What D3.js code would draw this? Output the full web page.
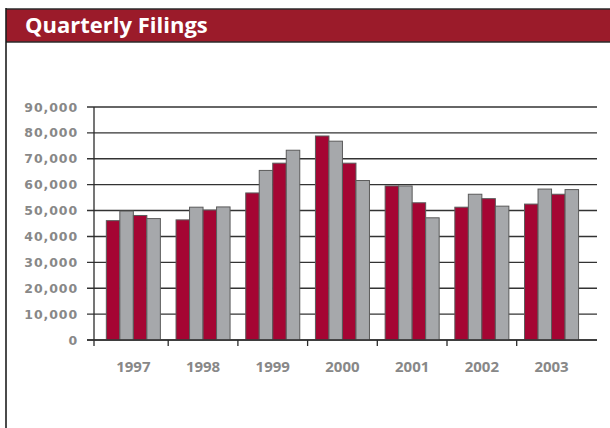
<!DOCTYPE html>
<html>
<head>
<meta charset="utf-8">
<script src="https://cdn.jsdelivr.net/npm/d3@7"></script>
<style>
  html, body { margin: 0; padding: 0; background: #fff; }
  svg { display: block; }
</style>
</head>
<body>
<div id="chartContainer"></div>
<script>
const years = ["1997", "1998", "1999", "2000", "2001", "2002", "2003"];
const quarters = ["Q1", "Q2", "Q3", "Q4"];
const q1 = [46100, 46400, 56800, 78800, 59500, 51300, 52500];
const q2 = [49800, 51300, 65500, 76800, 59500, 56300, 58300];
const q3 = [48100, 50200, 68300, 68300, 53000, 54600, 56300];
const q4 = [46900, 51400, 73300, 61600, 47200, 51700, 58100];
const yTicks = [0, 10000, 20000, 30000, 40000, 50000, 60000, 70000, 80000, 90000];
const title = "Quarterly Filings";

const series = [q1, q2, q3, q4];
const quarterColors = ["#a50533", "#a6a8ab", "#a50533", "#a6a8ab"];

const width = 610;
const height = 428;

const svg = d3
  .select("#chartContainer")
  .append("svg")
  .attr("width", width)
  .attr("height", height);

// header band
svg
  .append("rect")
  .attr("x", 6)
  .attr("y", 9)
  .attr("width", width)
  .attr("height", 33)
  .attr("fill", "#9b1b2a");
svg.append("line").attr("x1", 6).attr("x2", width).attr("y1", 9).attr("y2", 9)
  .attr("stroke", "#2b2b2b").attr("stroke-width", 1.6);
svg.append("line").attr("x1", 6).attr("x2", width).attr("y1", 42).attr("y2", 42)
  .attr("stroke", "#2b2b2b").attr("stroke-width", 1.6);
svg.append("line").attr("x1", 6).attr("x2", 6).attr("y1", 8).attr("y2", height)
  .attr("stroke", "#1e1e1e").attr("stroke-width", 1.6);

svg
  .append("text")
  .attr("x", 25)
  .attr("y", 32.5)
  .attr("fill", "#fff")
  .style("font-family", "'Open Sans', sans-serif")
  .style("font-weight", "bold")
  .style("font-size", "22px")
  .text(title);

// scales
const y = d3.scaleLinear().domain([0, 90000]).range([340, 107]);
const x0 = d3.scaleBand().domain(years).range([98.5, 586.4]).padding(0);
const x1 = d3
  .scaleBand()
  .domain(quarters)
  .range([0, x0.bandwidth()])
  .paddingInner(0)
  .paddingOuter(0.58);

const axisX = 94;
const gridRight = 597;

// grid lines with left tick marks
svg
  .append("g")
  .selectAll("line")
  .data(yTicks)
  .enter()
  .append("line")
  .attr("x1", axisX - 7)
  .attr("x2", gridRight)
  .attr("y1", (d) => y(d))
  .attr("y2", (d) => y(d))
  .attr("stroke", "#333")
  .attr("stroke-width", 1.4);

// y labels
svg
  .append("g")
  .selectAll("text")
  .data(yTicks)
  .enter()
  .append("text")
  .attr("x", 78)
  .attr("y", (d) => y(d))
  .attr("dy", "0.36em")
  .attr("text-anchor", "end")
  .attr("fill", "#888")
  .style("font-family", "'DejaVu Sans', sans-serif")
  .style("font-weight", "bold")
  .style("font-size", "12.5px")
  .style("letter-spacing", "0.9px")
  .text((d) => d3.format(",")(d));

// bars
const groups = svg
  .append("g")
  .selectAll("g")
  .data(years)
  .enter()
  .append("g")
  .attr("transform", (d) => `translate(${x0(d)},0)`);

groups
  .selectAll("rect")
  .data((d, i) => quarters.map((q, j) => ({ q: q, j: j, v: series[j][i] })))
  .enter()
  .append("rect")
  .attr("x", (d) => x1(d.q))
  .attr("width", x1.bandwidth())
  .attr("y", (d) => y(d.v))
  .attr("height", (d) => y(0) - y(d.v))
  .attr("fill", (d) => quarterColors[d.j])
  .attr("stroke", "#5b5b5b")
  .attr("stroke-width", 1);

// y axis line
svg.append("line").attr("x1", axisX).attr("x2", axisX).attr("y1", y(90000)).attr("y2", y(0) + 6)
  .attr("stroke", "#2b2b2b").attr("stroke-width", 1.3);

// zero line on top
svg.append("line").attr("x1", axisX - 7).attr("x2", gridRight).attr("y1", y(0)).attr("y2", y(0))
  .attr("stroke", "#333").attr("stroke-width", 1.4);

// category ticks below axis
svg
  .append("g")
  .selectAll("line")
  .data(years.slice(1))
  .enter()
  .append("line")
  .attr("x1", (d) => x0(d))
  .attr("x2", (d) => x0(d))
  .attr("y1", y(0))
  .attr("y2", y(0) + 6)
  .attr("stroke", "#2b2b2b")
  .attr("stroke-width", 1.3);

// x labels
svg
  .append("g")
  .selectAll("text")
  .data(years)
  .enter()
  .append("text")
  .attr("x", (d) => x0(d) + x0.bandwidth() / 2)
  .attr("y", 372)
  .attr("text-anchor", "middle")
  .attr("fill", "#888")
  .style("font-family", "'Open Sans', sans-serif")
  .style("font-weight", "bold")
  .style("font-size", "15px")
  .text((d) => d);
</script>
</body>
</html>
